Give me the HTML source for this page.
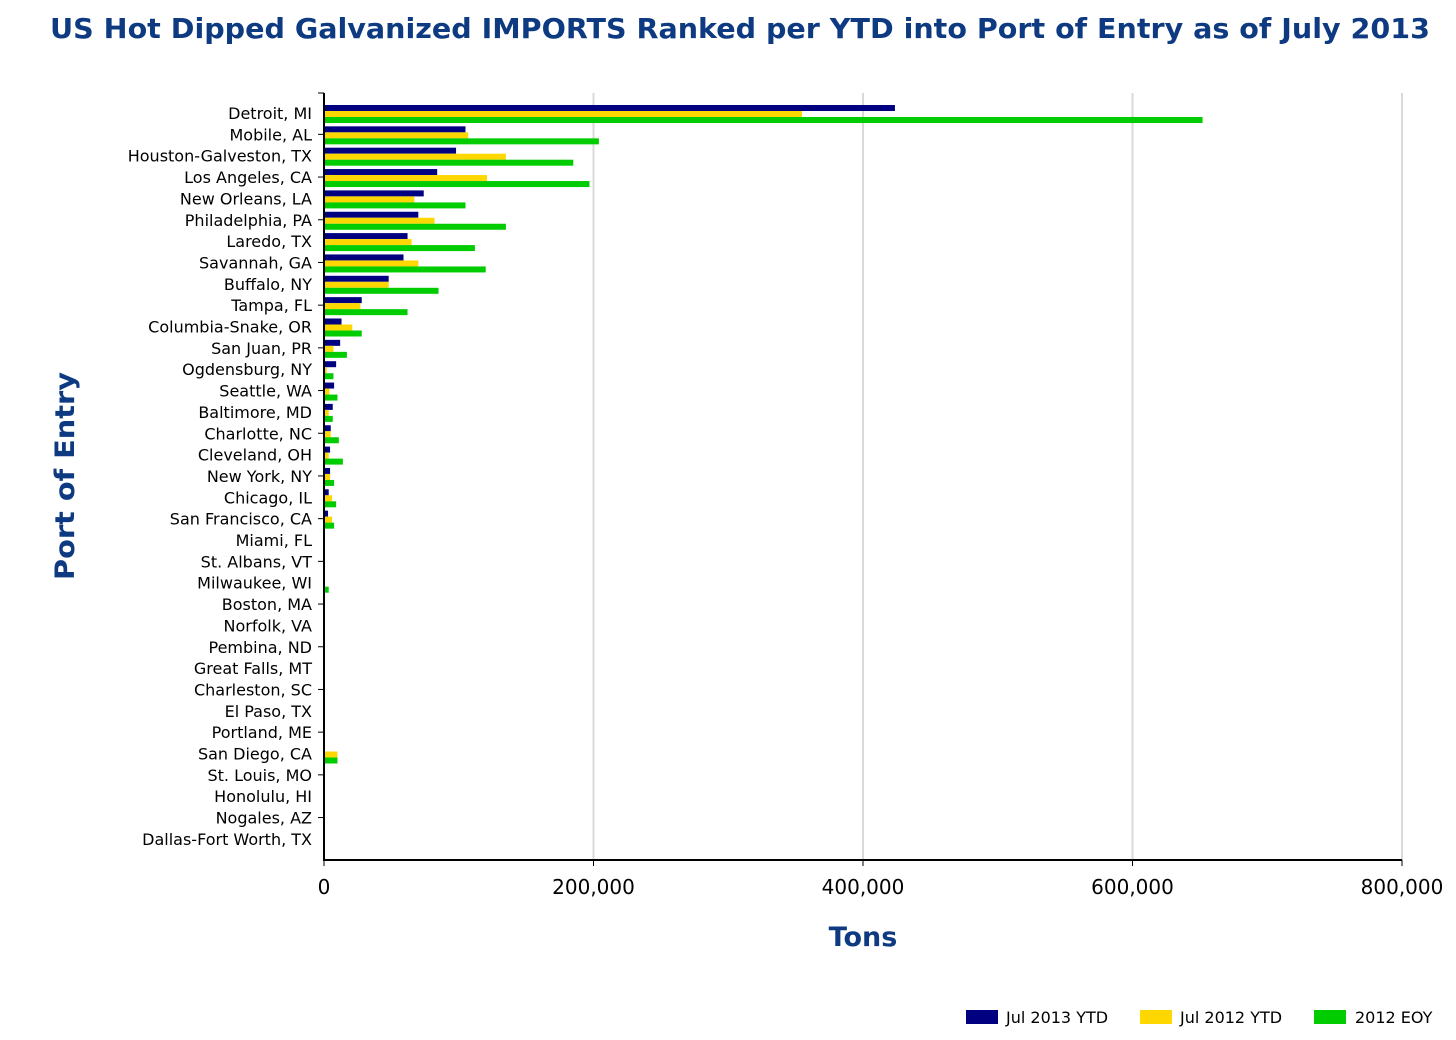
<!DOCTYPE html>
<html><head><meta charset="utf-8"><style>
body{margin:0;background:#fff;}
svg{display:block;font-family:"DejaVu Sans","Liberation Sans",sans-serif;}
</style></head><body>
<svg id="chart" width="1456" height="1040" xmlns="http://www.w3.org/2000/svg">
<text x="50" y="38" font-size="28" font-weight="bold" fill="#0d3a80" textLength="1380" lengthAdjust="spacingAndGlyphs">US Hot Dipped Galvanized IMPORTS Ranked per YTD into Port of Entry as of July 2013</text>
<g id="grid"></g>
<g id="bars"></g>
<g id="axes"></g>
<text transform="translate(74,476) rotate(-90)" text-anchor="middle" font-size="27" font-weight="bold" fill="#0d3a80" textLength="208" lengthAdjust="spacingAndGlyphs">Port of Entry</text>
<text x="863" y="946" text-anchor="middle" font-size="27" font-weight="bold" fill="#0d3a80">Tons</text>
<g font-size="16" fill="#000">
<g><rect x="966" y="1010" width="32" height="14" fill="#000080"/><text x="1006" y="1023">Jul 2013 YTD</text></g>
<g><rect x="1140" y="1010" width="32" height="14" fill="#ffd700"/><text x="1180" y="1023">Jul 2012 YTD</text></g>
<g><rect x="1314" y="1010" width="32" height="14" fill="#00cc00"/><text x="1355" y="1023">2012 EOY</text></g>
</g>
</svg>
<script>
const categories=["Detroit, MI","Mobile, AL","Houston-Galveston, TX","Los Angeles, CA","New Orleans, LA","Philadelphia, PA","Laredo, TX","Savannah, GA","Buffalo, NY","Tampa, FL","Columbia-Snake, OR","San Juan, PR","Ogdensburg, NY","Seattle, WA","Baltimore, MD","Charlotte, NC","Cleveland, OH","New York, NY","Chicago, IL","San Francisco, CA","Miami, FL","St. Albans, VT","Milwaukee, WI","Boston, MA","Norfolk, VA","Pembina, ND","Great Falls, MT","Charleston, SC","El Paso, TX","Portland, ME","San Diego, CA","St. Louis, MO","Honolulu, HI","Nogales, AZ","Dallas-Fort Worth, TX"];
const jul2013=[423700,105000,98000,84000,74000,70000,62000,59000,48000,28000,13000,12000,9000,7500,6500,5000,4500,4500,3500,3000,700,700,0,0,0,0,0,0,0,0,0,0,0,0,0];
const jul2012=[354700,107000,135000,121000,67000,82000,65000,70000,48000,27000,21000,7000,2000,4000,3500,5000,3500,4500,6000,6000,0,0,500,0,0,0,0,0,0,0,10000,0,0,0,0];
const eoy2012=[652000,204000,185000,197000,105000,135000,112000,120000,85000,62000,28000,17000,7000,10000,6500,11000,14000,7500,9000,7500,0,700,3500,0,0,0,0,0,0,0,10000,0,0,0,0];
const xTicks=[0,200000,400000,600000,800000];
const xTickLabels=["0","200,000","400,000","600,000","800,000"];

const NS="http://www.w3.org/2000/svg";
const X0=324,X1=1402,Y0=93,Y1=860,XMAX=800000;
const xs=v=>X0+(v/XMAX)*(X1-X0);
const band=21.35;
const barCenter=i=>114+band*i;
const labelY=i=>113+band*i;
function mk(tag,attrs,parent){const e=document.createElementNS(NS,tag);for(const k in attrs)e.setAttribute(k,attrs[k]);parent.appendChild(e);return e;}
const grid=document.getElementById('grid'),bars=document.getElementById('bars'),axes=document.getElementById('axes');
xTicks.forEach((t,i)=>{
  if(t>0){const l=mk('line',{x1:xs(t),x2:xs(t),y1:Y0,y2:Y1,stroke:'#d9d9d9','stroke-width':2},grid);
  
  }
  const tk=mk('line',{x1:xs(t),x2:xs(t),y1:Y1,y2:Y1+6,stroke:'#000'},axes);
  
  
  const tx=mk('text',{x:xs(t),y:894,'text-anchor':'middle','font-size':20,fill:'#000'},axes);
  tx.textContent=xTickLabels[i];
  
  
});
const series=[[jul2013,'#000080'],[jul2012,'#ffd700'],[eoy2012,'#00cc00']];
categories.forEach((c,i)=>{
  series.forEach(([arr,col],s)=>{
    const w=xs(arr[i])-X0;
    if(w<=0)return;
    const r=mk('rect',{x:X0,y:barCenter(i)-9+s*6,width:w,height:6,fill:col},bars);
    
    
  });
  const t=mk('text',{x:312,y:labelY(i)+6,'text-anchor':'end','font-size':16,fill:'#000'},axes);
  t.textContent=c;
  
  
  if(i%2===1){const tk=mk('line',{x1:X0-6,x2:X0,y1:labelY(i),y2:labelY(i),stroke:'#000'},axes);
  
  }
});
const ya=mk('line',{x1:X0,x2:X0,y1:Y0,y2:Y1+1,stroke:'#000','stroke-width':2},axes);


const yt=mk('line',{x1:X0-6,x2:X0,y1:Y0,y2:Y0,stroke:'#000'},axes);


const xa=mk('line',{x1:X0,x2:X1,y1:Y1,y2:Y1,stroke:'#000','stroke-width':2},axes);


</script>
</body></html>
